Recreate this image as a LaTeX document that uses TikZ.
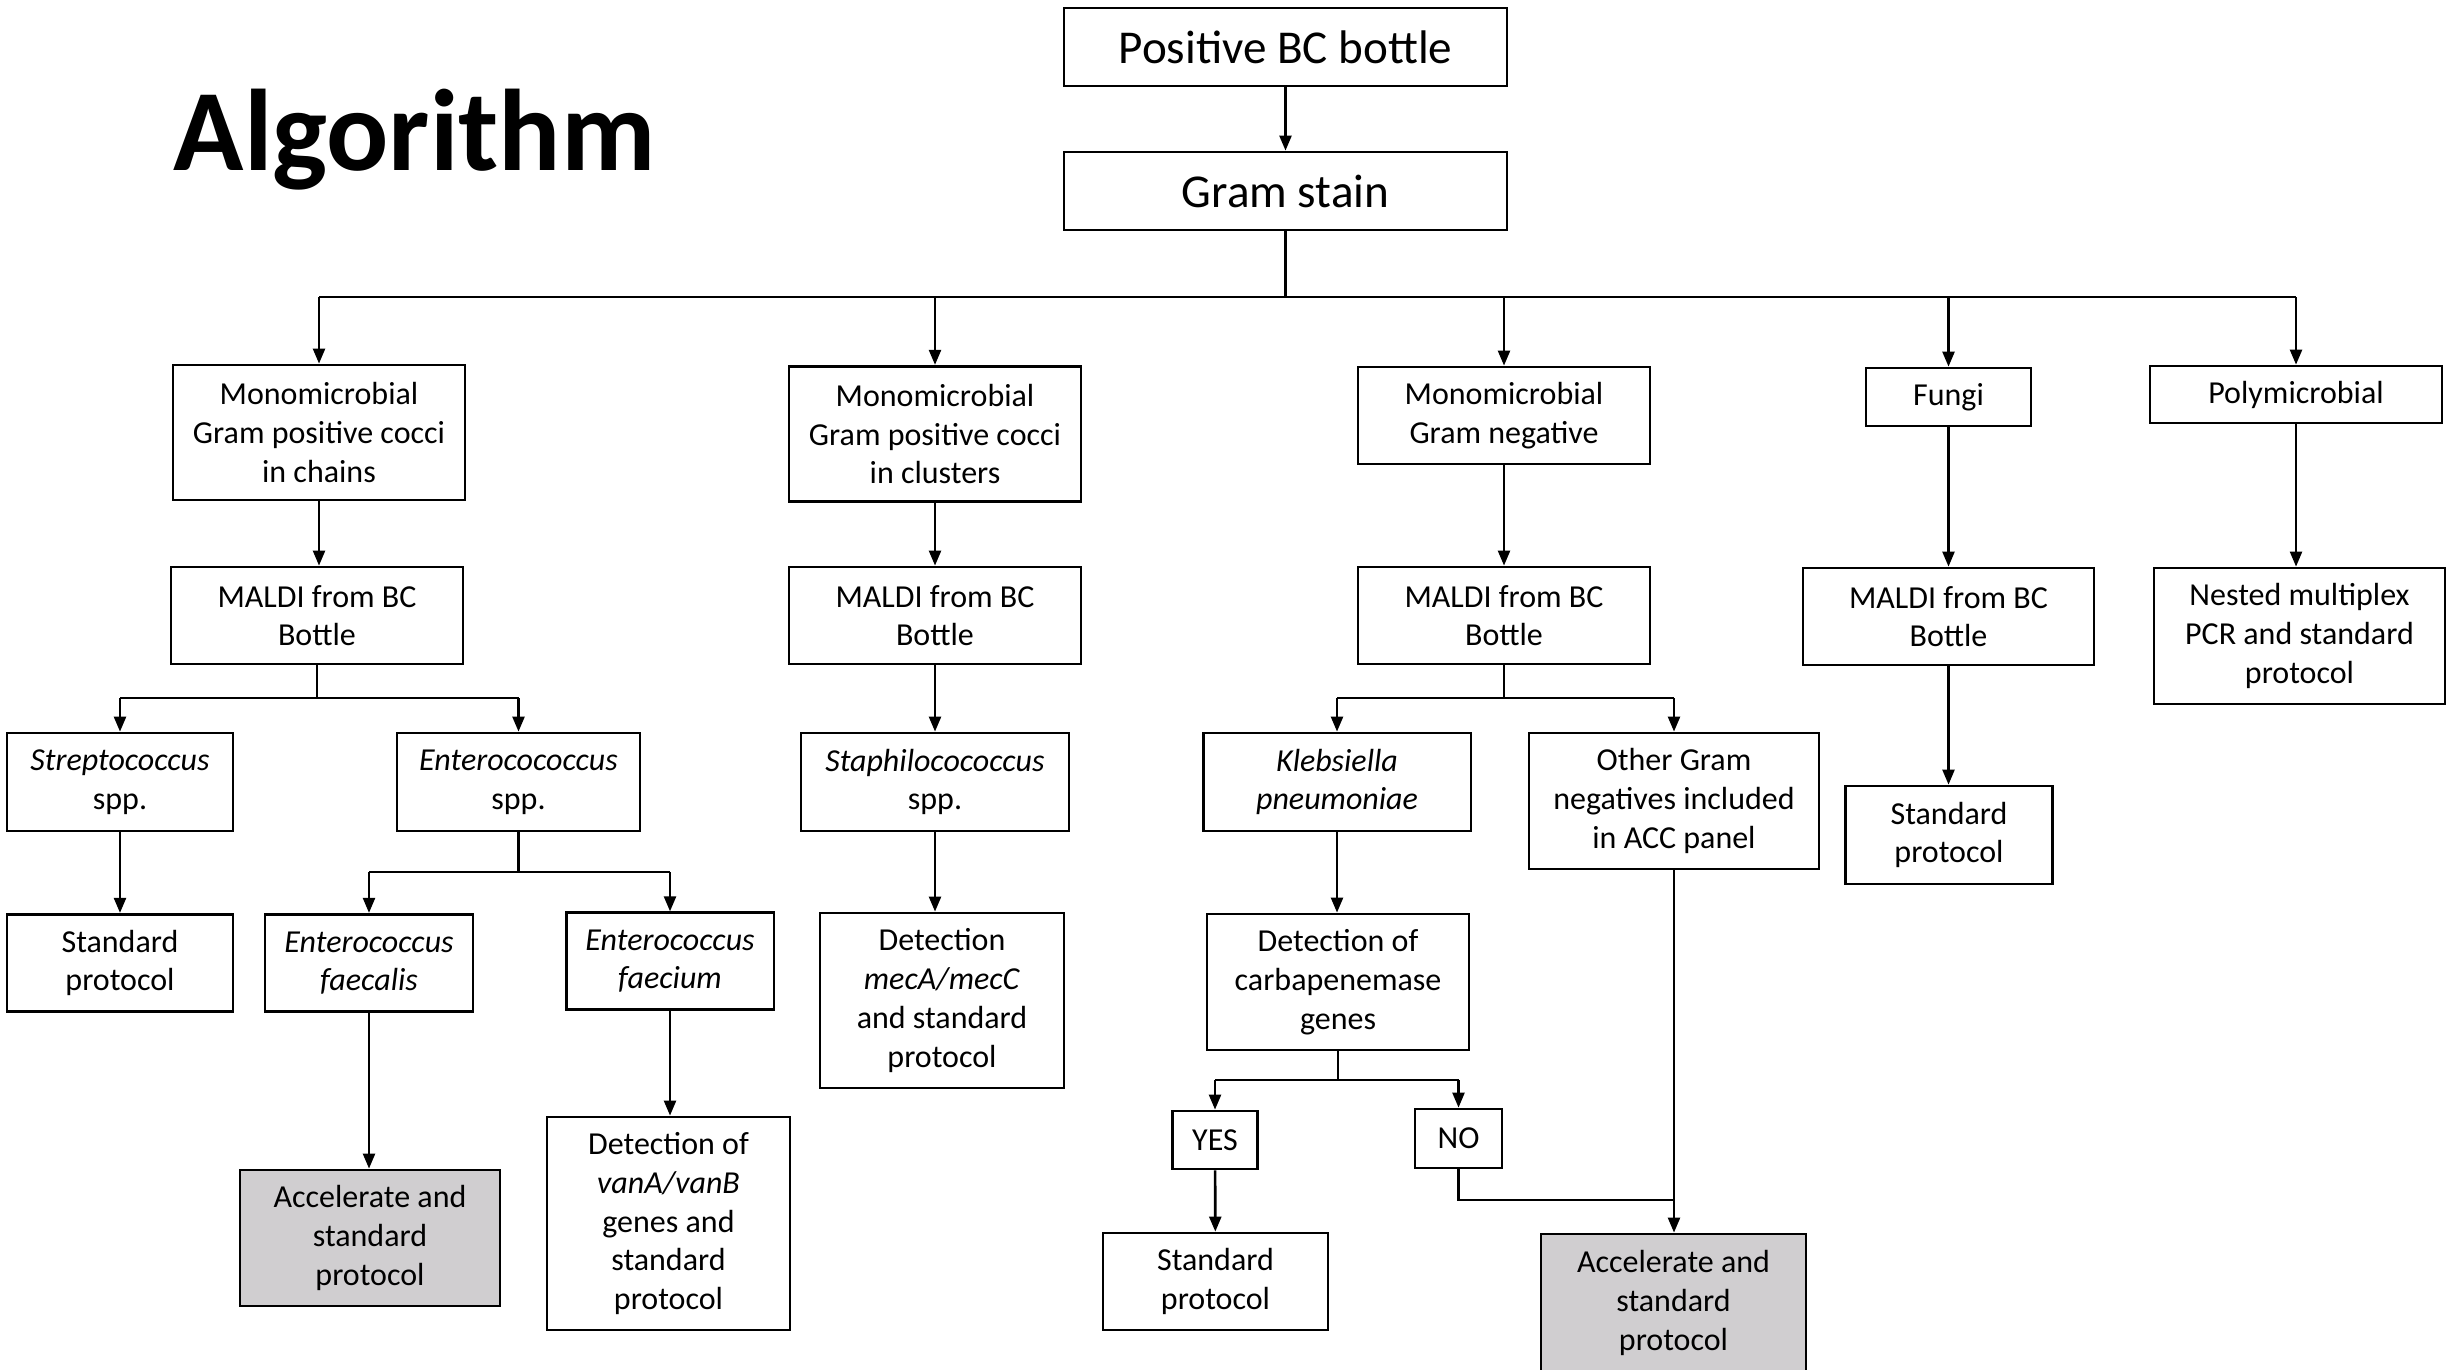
\documentclass[tikz,border=0pt]{standalone}
\usepackage{fontspec}
\setmainfont{Carlito}
\usetikzlibrary{arrows.meta}
\definecolor{accgray}{RGB}{208,206,208}
\newcommand\bxf{\fontsize{9.1}{11}\selectfont}
\newcommand\bigf{\fontsize{13.4}{16}\selectfont}
\begin{document}
\begin{tikzpicture}[x=0.01cm, y=-0.01cm,
  box/.style={draw, line width=0.75pt, inner sep=0pt, align=center, font=\bxf},
  grey/.style={box, fill=accgray},
  arr/.style={-{Triangle[length=4.3pt,width=3.4pt]}, line width=0.75pt},
  ln/.style={line width=0.75pt}]
\useasboundingbox (0,0) rectangle (2461,1369);
\clip (0,0) rectangle (2461,1369);

\node[anchor=base west, inner sep=0pt, font=\fontsize{33}{40}\selectfont\bfseries] (title) at (173,170) {Algorithm};

\node[box, font=\bigf, minimum width=4.43cm, minimum height=0.78cm] (pos) at (1285.5,47) {Positive BC bottle};
\node[box, font=\bigf, minimum width=4.43cm, minimum height=0.78cm] (gram) at (1285.5,191) {Gram stain};

\node[box, minimum width=2.92cm, minimum height=1.35cm] (b1) at (319,432.5) {Monomicrobial\\Gram positive cocci\\in chains};
\node[box, minimum width=2.92cm, minimum height=1.355cm] (b2) at (935,434) {Monomicrobial\\Gram positive cocci\\in clusters};
\node[box, minimum width=2.92cm, minimum height=0.97cm] (b3) at (1504,415.5) {Monomicrobial\\Gram negative};
\node[box, minimum width=1.65cm, minimum height=0.58cm] (fungi) at (1948.5,397) {Fungi};
\node[box, minimum width=2.92cm, minimum height=0.57cm] (poly) at (2296,394.5) {Polymicrobial};

\node[box, minimum width=2.92cm, minimum height=0.97cm] (m1) at (317,615.5) {MALDI from BC\\Bottle};
\node[box, minimum width=2.92cm, minimum height=0.97cm] (m2) at (935,615.5) {MALDI from BC\\Bottle};
\node[box, minimum width=2.92cm, minimum height=0.97cm] (m3) at (1504,615.5) {MALDI from BC\\Bottle};
\node[box, minimum width=2.91cm, minimum height=0.97cm] (m4) at (1948.5,616.5) {MALDI from BC\\Bottle};
\node[box, minimum width=2.91cm, minimum height=1.36cm] (nested) at (2299.5,636) {Nested multiplex\\PCR and standard\\protocol};

\node[box, minimum width=2.26cm, minimum height=0.98cm] (strep) at (120,782) {\textit{Streptococcus}\\spp.};
\node[box, minimum width=2.43cm, minimum height=0.98cm] (entspp) at (518.5,782) {\textit{Enterocococcus}\\spp.};
\node[box, minimum width=2.68cm, minimum height=0.98cm] (staph) at (935,782) {\textit{Staphilocococcus}\\spp.};
\node[box, minimum width=2.675cm, minimum height=0.98cm] (kleb) at (1337,782) {\textit{Klebsiella}\\\textit{pneumoniae}};
\node[box, minimum width=2.90cm, minimum height=1.36cm] (other) at (1674,801) {Other Gram\\negatives included\\in ACC panel};
\node[box, minimum width=2.065cm, minimum height=0.98cm] (fstd) at (1949,835) {Standard\\protocol};

\node[box, minimum width=2.26cm, minimum height=0.975cm] (sstd) at (120,963) {Standard\\protocol};
\node[box, minimum width=2.08cm, minimum height=0.975cm] (faecalis) at (369,963) {\textit{Enterococcus}\\\textit{faecalis}};
\node[box, minimum width=2.075cm, minimum height=0.965cm] (faecium) at (670,961) {\textit{Enterococcus}\\\textit{faecium}};
\node[box, minimum width=2.44cm, minimum height=1.75cm] (meca) at (942,1000.5) {Detection\\\textit{mecA/mecC}\\and standard\\protocol};
\node[box, minimum width=2.62cm, minimum height=1.36cm] (carba) at (1338,982) {Detection of\\carbapenemase\\genes};

\node[grey, minimum width=2.60cm, minimum height=1.36cm] (acc1) at (370,1238) {Accelerate and\\standard\\protocol};
\node[box, minimum width=2.43cm, minimum height=2.13cm] (vana) at (668.5,1223.5) {Detection of\\\textit{vanA/vanB}\\genes and\\standard\\protocol};
\node[box, minimum width=0.855cm, minimum height=0.58cm] (yes) at (1215,1140) {YES};
\node[box, minimum width=0.87cm, minimum height=0.59cm] (no) at (1458.5,1138.5) {NO};
\node[box, minimum width=2.25cm, minimum height=0.97cm] (ystd) at (1215.5,1281.5) {Standard\\protocol};
\node[grey, minimum width=2.65cm, minimum height=1.38cm] (acc2) at (1673.5,1303) {Accelerate and\\standard\\protocol};

% connectors
\draw[arr] (pos) -- (gram);
\coordinate (j0) at (1285.5,297);
\draw[ln] (gram.south) -- (j0);
\draw[ln] (b1.north |- j0) -- (poly.north |- j0);
\foreach \n in {b1,b2,b3,fungi,poly} \draw[arr] (\n.north |- j0) -- (\n.north);

\draw[arr] (b1.south) -- (b1.south |- m1.north);
\draw[arr] (b2) -- (m2);
\draw[arr] (b3) -- (m3);
\draw[arr] (fungi) -- (m4);
\draw[arr] (poly.south) -- (poly.south |- nested.north);

\coordinate (j1) at (317,698);
\draw[ln] (m1.south) -- (j1);
\draw[ln] (strep.north |- j1) -- (entspp.north |- j1);
\draw[arr] (strep.north |- j1) -- (strep.north);
\draw[arr] (entspp.north |- j1) -- (entspp.north);

\draw[arr] (m2) -- (staph);

\coordinate (j3) at (1504,698);
\draw[ln] (m3.south) -- (j3);
\draw[ln] (kleb.north |- j3) -- (other.north |- j3);
\draw[arr] (kleb.north |- j3) -- (kleb.north);
\draw[arr] (other.north |- j3) -- (other.north);

\draw[arr] (m4.south) -- (m4.south |- fstd.north);

\draw[arr] (strep) -- (sstd);

\coordinate (j2) at (518.5,872);
\draw[ln] (entspp.south) -- (j2);
\draw[ln] (faecalis.north |- j2) -- (faecium.north |- j2);
\draw[arr] (faecalis.north |- j2) -- (faecalis.north);
\draw[arr] (faecium.north |- j2) -- (faecium.north);

\draw[arr] (faecalis.south) -- (faecalis.south |- acc1.north);
\draw[arr] (faecium.south) -- (faecium.south |- vana.north);
\draw[arr] (staph.south) -- (staph.south |- meca.north);
\draw[arr] (kleb.south) -- (kleb.south |- carba.north);

\coordinate (j4) at (1338,1080);
\draw[ln] (carba.south) -- (j4);
\draw[ln] (yes.north |- j4) -- (no.north |- j4);
\draw[arr] (yes.north |- j4) -- (yes.north);
\draw[arr] (no.north |- j4) -- (no.north);

\draw[arr] (yes) -- (ystd);

\coordinate (j5) at (1674,1200);
\draw[ln] (no.south) |- (j5);
\draw[arr] (other.south) -- (other.south |- acc2.north);
\end{tikzpicture}
\end{document}
